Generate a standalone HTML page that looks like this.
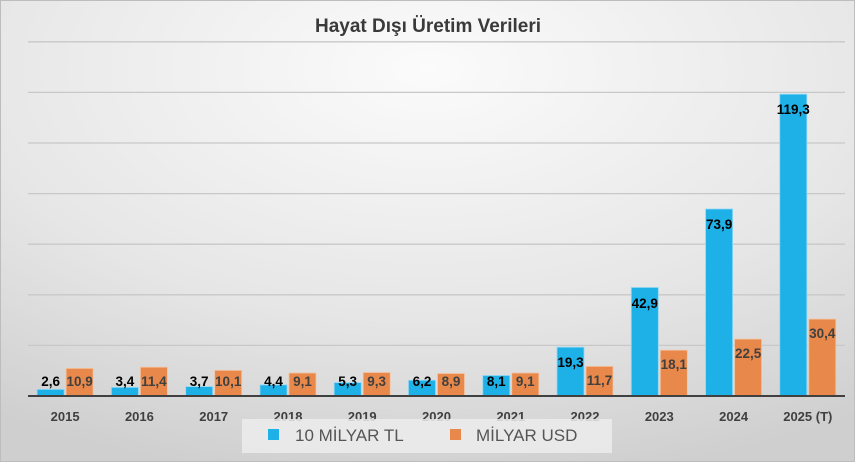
<!DOCTYPE html>
<html><head><meta charset="utf-8"><style>
html,body{margin:0;padding:0;width:855px;height:462px;overflow:hidden;}
svg{display:block;font-family:"Liberation Sans",sans-serif;}
</style></head><body>
<svg width="855" height="462" viewBox="0 0 855 462">
<defs>
<radialGradient id="bg" cx="0.5" cy="0.15" r="0.9">
<stop offset="0" stop-color="#fbfbfb"/><stop offset="0.6" stop-color="#e6e6e6"/><stop offset="1" stop-color="#cfcfcf"/>
</radialGradient>
</defs>
<rect x="0" y="0" width="855" height="462" fill="url(#bg)"/>
<rect x="0.5" y="0.5" width="854" height="461" fill="none" stroke="#bdbdbd"/>
<text x="428" y="32" text-anchor="middle" font-size="19" font-weight="bold" fill="#3a3a3a">Hayat Dışı Üretim Verileri</text>
<g stroke="#c8c8c8" stroke-width="1.3">
<line x1="28" x2="845" y1="41.8" y2="41.8"/>
<line x1="28" x2="845" y1="92.4" y2="92.4"/>
<line x1="28" x2="845" y1="143" y2="143"/>
<line x1="28" x2="845" y1="193.6" y2="193.6"/>
<line x1="28" x2="845" y1="244.2" y2="244.2"/>
<line x1="28" x2="845" y1="294.8" y2="294.8"/>
<line x1="28" x2="845" y1="345.4" y2="345.4"/>
</g>
<g fill="#1eb1e8" stroke="#8fd8f4" stroke-width="0.8">
<rect x="37.1" y="389.4" width="27" height="6.6"/>
<rect x="111.4" y="387.4" width="27" height="8.6"/>
<rect x="185.7" y="386.6" width="27" height="9.4"/>
<rect x="260" y="384.9" width="27" height="11.1"/>
<rect x="334.2" y="382.6" width="27" height="13.4"/>
<rect x="408.5" y="380.3" width="27" height="15.7"/>
<rect x="482.8" y="375.5" width="27" height="20.5"/>
<rect x="557" y="347.2" width="27" height="48.8"/>
<rect x="631.3" y="287.5" width="27" height="108.5"/>
<rect x="705.6" y="209" width="27" height="187"/>
<rect x="779.8" y="94.2" width="27" height="301.8"/>
</g>
<g fill="#e8884a" stroke="#f4c3a0" stroke-width="0.8">
<rect x="66.1" y="368.4" width="27" height="27.6"/>
<rect x="140.4" y="367.2" width="27" height="28.8"/>
<rect x="214.7" y="370.4" width="27" height="25.6"/>
<rect x="289" y="373" width="27" height="23"/>
<rect x="363.2" y="372.5" width="27" height="23.5"/>
<rect x="437.5" y="373.5" width="27" height="22.5"/>
<rect x="511.8" y="373" width="27" height="23"/>
<rect x="586" y="366.4" width="27" height="29.6"/>
<rect x="660.3" y="350.2" width="27" height="45.8"/>
<rect x="734.6" y="339.1" width="27" height="56.9"/>
<rect x="808.8" y="319.1" width="27" height="76.9"/>
</g>
<g font-size="13.5" font-weight="bold" fill="#000" text-anchor="middle">
<text x="50.6" y="386">2,6</text>
<text x="124.9" y="386">3,4</text>
<text x="199.2" y="386">3,7</text>
<text x="273.5" y="386">4,4</text>
<text x="347.7" y="386">5,3</text>
<text x="422" y="386">6,2</text>
<text x="496.3" y="386">8,1</text>
<text x="570.5" y="367">19,3</text>
<text x="644.8" y="308">42,9</text>
<text x="719.1" y="229">73,9</text>
<text x="793.3" y="114">119,3</text>
</g>
<g font-size="13.5" font-weight="bold" fill="#404040" text-anchor="middle">
<text x="79.6" y="386">10,9</text>
<text x="153.9" y="386">11,4</text>
<text x="228.2" y="386">10,1</text>
<text x="302.5" y="386">9,1</text>
<text x="376.7" y="386">9,3</text>
<text x="451" y="386">8,9</text>
<text x="525.3" y="386">9,1</text>
<text x="599.5" y="385">11,7</text>
<text x="673.8" y="369">18,1</text>
<text x="748.1" y="358">22,5</text>
<text x="822.3" y="338">30,4</text>
</g>
<g font-size="13" font-weight="bold" fill="#404040" text-anchor="middle">
<text x="65.1" y="421">2015</text>
<text x="139.4" y="421">2016</text>
<text x="213.7" y="421">2017</text>
<text x="288" y="421">2018</text>
<text x="362.2" y="421">2019</text>
<text x="436.5" y="421">2020</text>
<text x="510.8" y="421">2021</text>
<text x="585" y="421">2022</text>
<text x="659.3" y="421">2023</text>
<text x="733.6" y="421">2024</text>
<text x="807.8" y="421">2025 (T)</text>
</g>
<line x1="28" x2="845" y1="396" y2="396" stroke="#404040" stroke-width="2"/>
<rect x="242" y="419" width="370" height="34" fill="#ececec" opacity="0.85"/>
<rect x="268" y="429" width="11" height="11" fill="#1eb1e8"/>
<text x="295" y="441" font-size="17" fill="#555">10 MİLYAR TL</text>
<rect x="450" y="429" width="11" height="11" fill="#e8884a"/>
<text x="476" y="441" font-size="17" fill="#555">MİLYAR USD</text>
</svg>
</body></html>
